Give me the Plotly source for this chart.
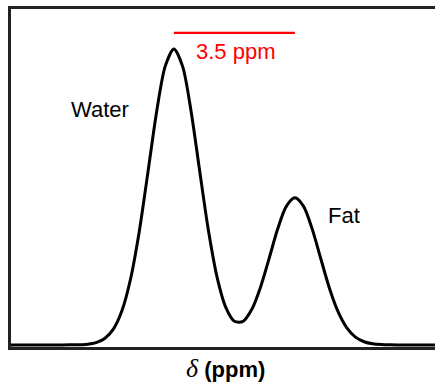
import plotly.graph_objects as go

# Simulated 1H spectrum: chemical shift (ppm) and relative intensity
shift_ppm = [9.5, 9.4, 7.95, 7.7, 7.45, 7.2, 6.95, 6.7, 6.45, 6.2, 5.95, 5.7, 5.45, 5.2, 4.95,
             4.7, 4.45, 4.2, 3.95, 3.7, 3.45, 3.2, 2.95, 2.7, 2.45, 2.2, 1.95, 1.7, 1.45,
             1.2, 0.95, 0.7, 0.45, 0.2, -0.05, -0.3, -0.55, -0.8, -1.05, -1.3, -1.55,
             -1.8, -2.85, -3.0]
intensity = [0.0, 0.0, 0.0, 0.0002, 0.0007, 0.0025, 0.0079, 0.0218, 0.0534, 0.1162, 0.2243,
             0.3842, 0.5839, 0.7873, 0.9420,
             1.0, 0.9420, 0.7874, 0.5843, 0.3855, 0.2282, 0.1270, 0.0800, 0.0796, 0.1194,
             0.1935, 0.2909, 0.3915, 0.4682,
             0.497, 0.4682, 0.3913, 0.2902, 0.1909, 0.1115, 0.0578, 0.0265, 0.0108, 0.0039,
             0.0013, 0.0004, 0.0001, 0.0, 0.0]

# Peak positions (ppm) used for the separation bar and labels
water_ppm = 4.7
fat_ppm = 1.2
separation_label = "3.5 ppm"
peak_labels = ["Water", "Fat"]
label_ppm = [6.84, -0.22]
label_int = [0.797, 0.437]
bar_level = 1.054
bar_text_level = 0.993

fig = go.Figure()

fig.add_trace(go.Scatter(
    x=shift_ppm, y=intensity, mode="lines",
    line=dict(color="black", width=3, shape="spline", smoothing=0.8),
    hoverinfo="skip", showlegend=False,
))

# Separation bar between the two peak maxima
fig.add_trace(go.Scatter(
    x=[water_ppm, fat_ppm], y=[bar_level, bar_level], mode="lines",
    line=dict(color="#ff0000", width=2.2),
    hoverinfo="skip", showlegend=False,
))

annotations = [
    dict(x=(water_ppm + fat_ppm) / 2 - 0.05, y=bar_text_level, xref="x", yref="y",
         text=separation_label, showarrow=False,
         font=dict(family="Liberation Sans, Arial, sans-serif", size=22, color="#ff0000"),
         xanchor="center", yanchor="middle"),
]
for name, px_, py_ in zip(peak_labels, label_ppm, label_int):
    annotations.append(dict(
        x=px_, y=py_, xref="x", yref="y", text=name, showarrow=False,
        font=dict(family="Liberation Sans, Arial, sans-serif", size=22, color="black"),
        xanchor="center", yanchor="middle"))

annotations.append(dict(
    x=0.507, y=-0.064, xref="paper", yref="paper",
    text="<span style='font-family:Liberation Serif, serif;font-size:26px'><i>δ</i></span>"
         " <b>(ppm)</b>",
    showarrow=False,
    font=dict(family="Liberation Sans, Arial, sans-serif", size=22, color="black"),
    xanchor="center", yanchor="middle"))

fig.update_layout(
    width=435, height=385,
    margin=dict(l=11, r=0, t=9, b=38),
    paper_bgcolor="white", plot_bgcolor="white",
    xaxis=dict(range=[9.41, -2.85], showgrid=False, zeroline=False,
               showticklabels=False, ticks="",
               showline=True, linecolor="#222222", linewidth=3, mirror=True),
    yaxis=dict(range=[-0.007, 1.135], showgrid=False, zeroline=False,
               showticklabels=False, ticks="",
               showline=True, linecolor="#222222", linewidth=3, mirror=False),
    annotations=annotations,
)

fig.write_html("out.html")
